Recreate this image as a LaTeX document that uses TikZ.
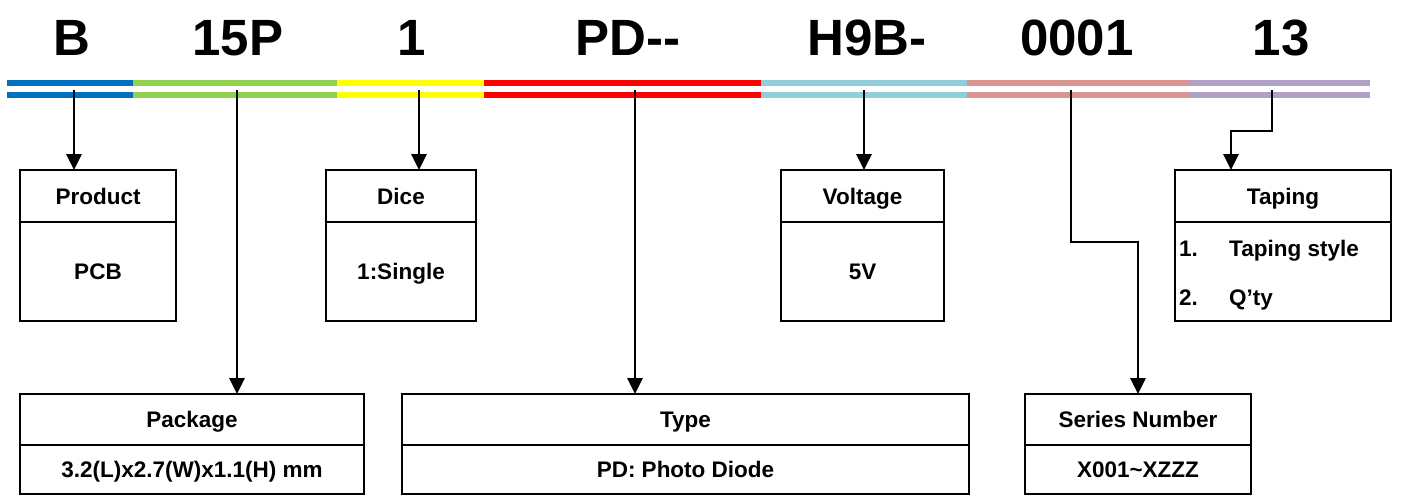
\documentclass[tikz,border=0pt]{standalone}
\usepackage{fontspec}
\setmainfont{Liberation Sans}
\usetikzlibrary{arrows.meta}
\definecolor{cblue}{HTML}{0070C0}
\definecolor{cgreen}{HTML}{92D050}
\definecolor{cyellow}{HTML}{FFFF00}
\definecolor{cred}{HTML}{FF0000}
\definecolor{ccyan}{HTML}{92CDDC}
\definecolor{cpink}{HTML}{D99594}
\definecolor{cpurple}{HTML}{B2A1C7}
\begin{document}
\begin{tikzpicture}[x=1pt,y=-1pt,
  code/.style={font=\fontsize{51}{60}\selectfont\bfseries, inner sep=0pt, anchor=base},
  boxpart/.style={draw, line width=2.8pt, inner sep=0pt, outer sep=0pt, anchor=north west,
    text height=16pt, text depth=0pt,
    font=\fontsize{22.5}{26}\selectfont\bfseries},
  itemtxt/.style={font=\fontsize{22.5}{26}\selectfont\bfseries, inner sep=0pt, anchor=base west},
  conn/.style={line width=2.8pt, -{Triangle[width=15pt,length=16pt]}}
]
\useasboundingbox (0,0) rectangle (1410,496);
% top code
\node[code] (tB) at (72,55) {B};
\node[code] (t15P) at (238,55) {15P};
\node[code] (t1) at (412,55) {1};
\node[code] (tPD) at (628,55) {PD{-}{-}};
\node[code] (tH9B) at (867,55) {H9B-};
\node[code] (t0001) at (1077,55) {0001};
\node[code] (t13) at (1281,55) {13};
% colour bars
\foreach \a/\b/\c in {7/133/cblue,133/337/cgreen,337/484/cyellow,484/761/cred,761/967/ccyan,967/1190/cpink,1190/1370/cpurple}{
  \fill[\c] (\a,80) rectangle (\b,86);
  \fill[\c] (\a,92) rectangle (\b,98);
}
% boxes upper row
\node[boxpart, minimum width=156, minimum height=52] (prodH) at (20,170) {Product};
\node[boxpart, minimum width=156, minimum height=99] (prodB) at (prodH.south west) {PCB};
\node[boxpart, minimum width=150, minimum height=52] (diceH) at (326,170) {Dice};
\node[boxpart, minimum width=150, minimum height=99] (diceB) at (diceH.south west) {1:Single};
\node[boxpart, minimum width=163, minimum height=52] (voltH) at (781,170) {Voltage};
\node[boxpart, minimum width=163, minimum height=99] (voltB) at (voltH.south west) {5V};
\node[boxpart, minimum width=216, minimum height=52] (tapH) at (1175,170) {Taping};
\node[boxpart, minimum width=216, minimum height=99] (tapB) at (tapH.south west) {};
\node[itemtxt] (i1) at (1179,256) {1.};
\node[itemtxt] (i1t) at (1229,256) {Taping style};
\node[itemtxt] (i2) at (1179,305) {2.};
\node[itemtxt] (i2t) at (1229,305) {Q’ty};
% boxes lower row
\node[boxpart, minimum width=344, minimum height=51] (pkgH) at (20,394) {Package};
\node[boxpart, minimum width=344, minimum height=49] (pkgB) at (pkgH.south west) {3.2(L)x2.7(W)x1.1(H) mm};
\node[boxpart, minimum width=567, minimum height=51] (typeH) at (402,394) {Type};
\node[boxpart, minimum width=567, minimum height=49] (typeB) at (typeH.south west) {PD: Photo Diode};
\node[boxpart, minimum width=226, minimum height=51] (serH) at (1025,394) {Series Number};
\node[boxpart, minimum width=226, minimum height=49] (serB) at (serH.south west) {X001\textasciitilde XZZZ};
% connector origins
\coordinate (sB) at (74,90);
\coordinate (s15P) at (237,90);
\coordinate (s1) at (419,90);
\coordinate (sPD) at (635,90);
\coordinate (sH9B) at (864,90);
\coordinate (s0001) at (1071,90);
\coordinate (s13) at (1272,90);
\coordinate (tapIn) at (1231,131);
\coordinate (serMid) at (1071,242);
% connectors
\draw[conn] (sB) -- (sB |- prodH.north);
\draw[conn] (s15P) -- (s15P |- pkgH.north);
\draw[conn] (s1) -- (s1 |- diceH.north);
\draw[conn] (sPD) -- (sPD |- typeH.north);
\draw[conn] (sH9B) -- (sH9B |- voltH.north);
\draw[conn] (s0001) -- (serMid) -| (serH.north);
\draw[conn] (s13) |- (tapIn) -- (tapIn |- tapH.north);
\end{tikzpicture}
\end{document}
